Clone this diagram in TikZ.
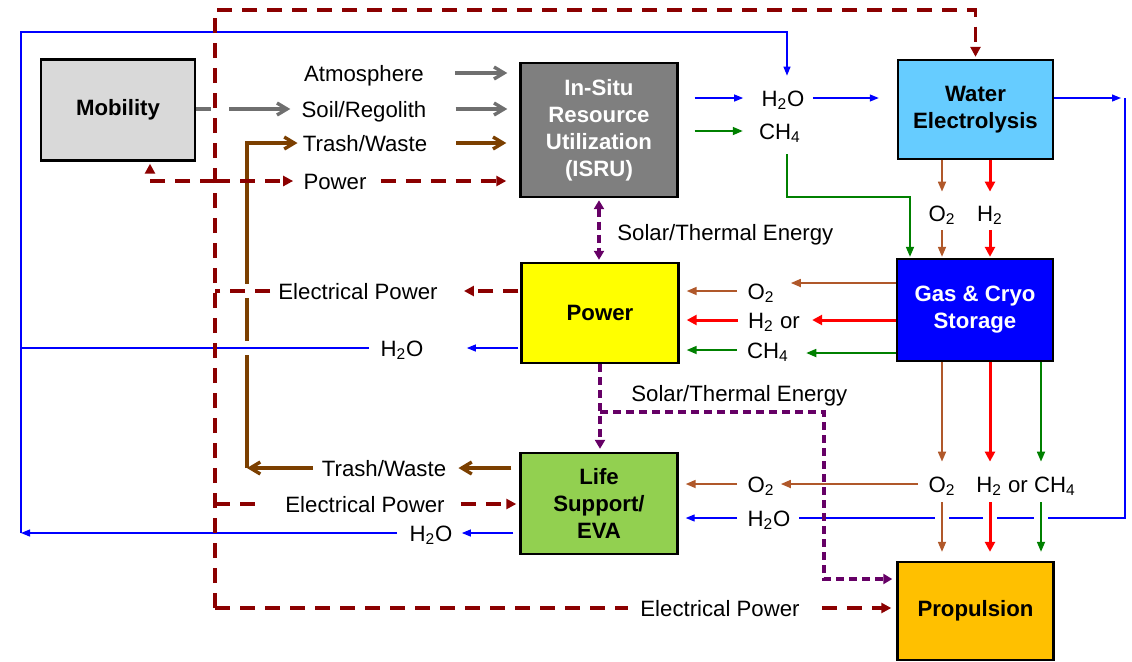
\documentclass[tikz,border=0pt]{standalone}
\usepackage{fontspec}
\setmainfont{Liberation Sans}
\usepackage{xcolor}
\definecolor{MobGray}{HTML}{D9D9D9}
\definecolor{IsruGray}{HTML}{7F7F7F}
\definecolor{ElecBlue}{HTML}{66CCFF}
\definecolor{CryoBlue}{HTML}{0000FF}
\definecolor{PowerYellow}{HTML}{FFFF00}
\definecolor{LifeGreen}{HTML}{92D050}
\definecolor{PropOrange}{HTML}{FFC000}
\definecolor{FeedGray}{HTML}{6F6F6F}
\definecolor{TrashBrown}{HTML}{7B3F00}
\definecolor{OxyBrown}{HTML}{B0582A}
\definecolor{BusRed}{HTML}{8B0000}
\definecolor{SolarPurple}{HTML}{660066}
\definecolor{WaterBlue}{HTML}{0000FF}
\definecolor{HydRed}{HTML}{FF0000}
\definecolor{MethGreen}{HTML}{008000}
\usepackage{tikz}
\usetikzlibrary{arrows.meta, calc}

\begin{document}
\begin{tikzpicture}[x=0.5pt, y=-0.5pt,
  unitbox/.style={draw=black, line width=1.2pt, align=center, inner sep=0pt,
    font=\fontsize{11.1}{13.5}\selectfont\bfseries},
  lbl/.style={inner sep=0pt, text height=8pt, text depth=0pt,
    font=\fontsize{11.1}{13.5}\selectfont},
  feed/.style={FeedGray, line width=1.7pt, -{Straight Barb[length=5pt,width=6pt]}},
  trash/.style={TrashBrown, line width=1.7pt, -{Straight Barb[length=5pt,width=6pt]}},
  busline/.style={BusRed, line width=1.9pt, dash pattern=on 7.5pt off 5pt},
  busarrow/.style={busline, -{Triangle[length=5pt,width=5pt]}},
  solar/.style={SolarPurple, line width=1.6pt, dash pattern=on 4pt off 2.5pt,
    -{Triangle[length=4.5pt,width=5pt]}},
  waterline/.style={WaterBlue, line width=0.6pt},
  water/.style={waterline, -{Triangle[length=4.5pt,width=3.5pt]}},
  oxy/.style={OxyBrown, line width=0.85pt, -{Triangle[length=5pt,width=4pt]}},
  hyd/.style={HydRed, line width=1.5pt, -{Triangle[length=5pt,width=5pt]}},
  meth/.style={MethGreen, line width=0.85pt, -{Triangle[length=5pt,width=4pt]}},
  bridge/.style={preaction={draw=white, solid, line width=7pt}}]
  \useasboundingbox (0,0) rectangle (1132,661);

  % Units
  \node[unitbox, fill=MobGray, minimum width=77pt, minimum height=50.5pt] (mob) at (118,110) {Mobility};
  \node[unitbox, fill=IsruGray, text=white, minimum width=78.5pt, minimum height=67pt] (isru) at (599,130) {In-Situ\\Resource\\Utilization\\(ISRU)};
  \node[unitbox, fill=ElecBlue, minimum width=77.5pt, minimum height=49.5pt] (elec) at (975.5,109.5) {Water\\Electrolysis};
  \node[unitbox, fill=CryoBlue, text=white, minimum width=78pt, minimum height=51pt] (cryo) at (975,310) {Gas \& Cryo\\Storage};
  \node[unitbox, fill=PowerYellow, minimum width=78.5pt, minimum height=50pt] (power) at (600,313) {Power};
  \node[unitbox, fill=LifeGreen, minimum width=78.5pt, minimum height=50.5pt] (life) at (599,503.5) {Life\\Support/\\EVA};
  \node[unitbox, fill=PropOrange, minimum width=78pt, minimum height=49pt] (prop) at (975.5,611) {Propulsion};

  % Flow labels
  \node[lbl] (atm) at (364,73) {Atmosphere};
  \node[lbl] (soil) at (364,109) {Soil/Regolith};
  \node[lbl] (trashin) at (365,143) {Trash/Waste};
  \node[lbl] (pwrin) at (335,181) {Power};
  \node[lbl] (epwr) at (358,291) {Electrical Power};
  \node[lbl] (wpow) at (402,348) {H\textsubscript{2}O};
  \node[lbl] (trashout) at (384,468) {Trash/Waste};
  \node[lbl] (elife) at (365,504) {Electrical Power};
  \node[lbl] (wlife) at (431,533) {H\textsubscript{2}O};
  \node[lbl, anchor=west] (solarA) at (617,232) {Solar/Thermal Energy};
  \node[lbl, anchor=west] (solarB) at (631,393) {Solar/Thermal Energy};
  \node[lbl] (eprop) at (720,608) {Electrical Power};
  \node[lbl] (wisru) at (783,98) {H\textsubscript{2}O};
  \node[lbl] (misru) at (780,131) {CH\textsubscript{4}};
  \node[lbl] (oelec) at (942,213) {O\textsubscript{2}};
  \node[lbl] (helec) at (990,213) {H\textsubscript{2}};
  \node[lbl] (ocp) at (761,291) {O\textsubscript{2}};
  \node[lbl] (hcp) at (774,320) {H\textsubscript{2} or};
  \node[lbl] (mcp) at (768,350) {CH\textsubscript{4}};
  \node[lbl] (ocl) at (761,484) {O\textsubscript{2}};
  \node[lbl] (wcl) at (769,518) {H\textsubscript{2}O};
  \node[lbl] (ocprop) at (942,484) {O\textsubscript{2}};
  \node[lbl] (hmprop) at (1026,484) {H\textsubscript{2} or CH\textsubscript{4}};

  % Bends
  \coordinate (busN) at (215,10);
  \coordinate (busS) at (215,608);
  \coordinate (wNW) at (21,32);
  \coordinate (wNE) at (787,32);
  \coordinate (wSE) at (1125,518);
  \coordinate (tcorner) at (247,468);
  \coordinate (gturn) at (787,197);
  \coordinate (gdrop) at (910,197);
  \coordinate (sturn) at (824,412);
  \coordinate (sdrop) at (824,579);
  \coordinate (mobpin) at (150,181);
  \coordinate (mx) at (1041,484);

  % Trash loop
  \draw[trash, shorten <=4pt, shorten >=6pt] (life.west |- trashout.east) -- (trashout.east);
  \draw[trash, shorten <=4.5pt] (trashout.west) -- (tcorner);
  \draw[trash, shorten >=2.5pt] (tcorner) -- (tcorner |- trashin.west) -- (trashin.west);

  % Water
  \draw[water, shorten <=1pt, shorten >=21.5pt] (power.west |- wpow.east) -- (wpow.east);
  \draw[waterline, bridge] ([xshift=-5.5pt]wpow.west) -- (wNW |- wpow.west);
  \draw[water, shorten <=3pt, shorten >=4.5pt] (life.west |- wlife.east) -- (wlife.east);
  \draw[water, shorten <=6pt] (wlife.west) -- (wNW |- wlife.west);
  \draw[water, shorten >=7pt] (wNW |- wlife.west) -- (wNW) -- (wNE) -- (wNE |- wisru.north);
  \draw[water, shorten <=8pt, shorten >=9pt] (isru.east |- wisru.west) -- (wisru.west);
  \draw[water, shorten <=4pt, shorten >=9pt] (wisru.east) -- (wisru.east -| elec.west);
  \draw[water, shorten >=2pt] (elec.east |- wisru.east) -- (wSE |- wisru.east);
  \draw[waterline, shorten >=4pt] (wSE |- wisru.east) -- (wSE) -- (wcl.east);
  \draw[water, shorten <=5pt, shorten >=3.5pt] (wcl.west) -- (wcl.west -| life.east);

  % Electrical power
  \draw[busline, bridge] ([xshift=-4pt]epwr.west) -- (busN |- epwr.west);
  \draw[busarrow, shorten <=1pt, shorten >=13pt] (power.west |- epwr.east) -- (epwr.east);
  \draw[busarrow, shorten >=1pt] (busS) -- (busN) -- (busN -| elec.north) -- (elec.north);
  \draw[busline, shorten >=6pt] (busS) -- (eprop.west);
  \draw[busarrow, shorten <=11pt, shorten >=2.5pt] (eprop.east) -- (eprop.east -| prop.west);
  \draw[busline, shorten >=13pt] (busN |- elife.west) -- (elife.west);
  \draw[busarrow, shorten <=8pt, shorten >=1.5pt] (elife.east) -- (elife.east -| life.west);
  \draw[busarrow, shorten >=5pt] (busN |- pwrin.west) -- (pwrin.west);
  \draw[busarrow, shorten >=1pt] (busN |- pwrin.west) -- (mobpin) -- (mobpin |- mob.south);
  \draw[busarrow, shorten <=7pt, shorten >=6.5pt] (pwrin.east) -- (pwrin.east -| isru.west);

  % ISRU feed
  \draw[FeedGray, line width=1.7pt] (mob.east |- soil.west) -- ([xshift=-2pt]busN |- soil.west);
  \draw[feed, shorten >=5.5pt] ([xshift=7pt]busN |- soil.west) -- (soil.west);
  \draw[feed, shorten <=15.5pt, shorten >=6pt] (atm.east) -- (atm.east -| isru.west);
  \draw[feed, shorten <=14.5pt, shorten >=6pt] (soil.east) -- (soil.east -| isru.west);
  \draw[trash, shorten <=14.5pt, shorten >=6.5pt] (trashin.east) -- (trashin.east -| isru.west);

  % Methane
  \draw[meth, shorten <=8pt, shorten >=8pt] (isru.east |- misru.west) -- (misru.west);
  \draw[meth, shorten <=7.5pt, shorten >=0.5pt] (gturn |- misru.south) -- (gturn) -- (gdrop) -- (gdrop |- cryo.north);

  % Electrolysis to storage
  \draw[oxy, shorten >=6.5pt] (elec.south -| oelec) -- (oelec.north);
  \draw[oxy, shorten <=4.5pt, shorten >=0.5pt] (oelec.south) -- (oelec.south |- cryo.north);
  \draw[hyd, shorten >=6.5pt] (elec.south -| helec) -- (helec.north);
  \draw[hyd, shorten <=4.5pt, shorten >=0.5pt] (helec.south) -- (helec.south |- cryo.north);

  % Storage to power
  \draw[oxy, shorten >=8pt] ([yshift=4pt]ocp.east -| cryo.west) -- ([yshift=4pt]ocp.east);
  \draw[oxy, shorten <=5pt, shorten >=3.5pt] (ocp.west) -- (ocp.west -| power.east);
  \draw[hyd, shorten >=6pt] (hcp.east -| cryo.west) -- (hcp.east);
  \draw[hyd, shorten <=5pt, shorten >=3.5pt] (hcp.west) -- (hcp.west -| power.east);
  \draw[meth, shorten >=8.5pt] ([yshift=-1.5pt]mcp.east -| cryo.west) -- ([yshift=-1.5pt]mcp.east);
  \draw[meth, shorten <=5pt, shorten >=3.5pt] (mcp.west) -- (mcp.west -| power.east);

  % Storage to propulsion and life support
  \draw[oxy, shorten >=7pt] (cryo.south -| ocprop) -- (ocprop.north);
  \draw[hyd, shorten >=7pt] (cryo.south -| helec) -- (helec |- hmprop.north);
  \draw[meth, shorten >=7pt] (cryo.south -| mx) -- (mx |- hmprop.north);
  \draw[oxy, bridge] ([yshift=-5pt]ocprop.south) -- ([yshift=4.5pt]prop.north -| ocprop);
  \draw[hyd, bridge] ([yshift=-5pt]helec |- hmprop.south) -- ([yshift=4.5pt]prop.north -| helec);
  \draw[meth, bridge] ([yshift=-5pt]mx |- hmprop.south) -- ([yshift=4.5pt]prop.north -| mx);
  \draw[oxy, shorten <=5pt, shorten >=3pt] (ocprop.west) -- (ocl.east);
  \draw[oxy, shorten <=5pt, shorten >=3.5pt] (ocl.west) -- (ocl.west -| life.east);

  % Solar/thermal energy
  \draw[solar, {Triangle[length=4.5pt,width=5pt]}-{Triangle[length=4.5pt,width=5pt]}, shorten <=1pt, shorten >=1pt] (isru.south) -- (isru.south |- power.north);
  \draw[solar, shorten >=1.5pt] (power.south) -- (power.south |- life.north);
  \draw[solar, shorten >=2pt] (power.south |- sturn) -- (sturn) -- (sdrop) -- (sdrop -| prop.west);
\end{tikzpicture}
\end{document}
